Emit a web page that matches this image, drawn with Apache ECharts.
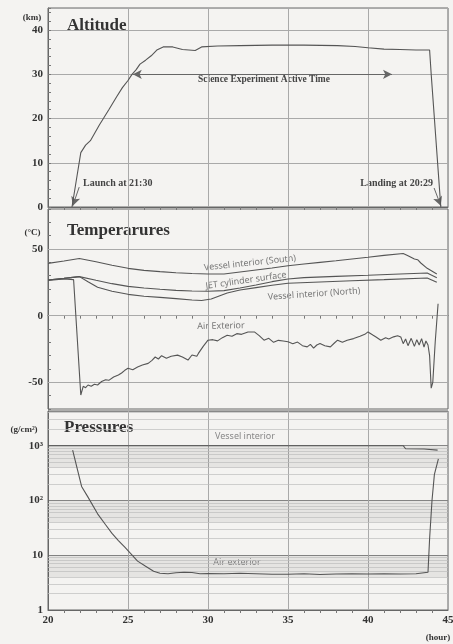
<!DOCTYPE html>
<html>
<head>
<meta charset="utf-8">
<script src="https://cdn.jsdelivr.net/npm/echarts@6/dist/echarts.min.js"></script>
<style>
  html, body { margin: 0; padding: 0; background: #f4f3f1; }
  #chart { width: 453px; height: 644px; }
</style>
</head>
<body>
<div id="chart"></div>
<script>
// altitude (km) vs elapsed hour
const altHours = [21.5, 21.75, 22.05, 22.35, 22.65, 23.2, 23.8, 24.3, 24.65, 25.0, 25.25, 25.5, 25.75, 26.1, 26.45, 26.8, 27.2, 27.8, 28.4, 29.2, 29.6, 30.6, 32, 34, 36, 38.1, 39.2, 40, 41, 42, 43, 43.85, 43.95, 44.55]
const altKm = [0, 5.6, 12.3, 14, 15, 18.5, 22, 25, 27, 28.6, 30, 31, 32.3, 33.2, 34.2, 35.5, 36.2, 36.2, 35.6, 35.4, 36.2, 36.4, 36.5, 36.6, 36.6, 36.5, 36.3, 36, 35.7, 35.6, 35.5, 35.5, 30, 0]

// temperatures (°C)
const southHours = [20, 21, 21.96, 23, 24, 25, 26, 27, 28, 29, 30, 31, 32, 33, 34, 35, 36, 37, 38, 39, 40, 41, 42.2, 42.5, 42.9, 43.1, 43.3, 43.7, 44.3]
const southTemp = [39.2, 41, 42.9, 40.5, 37.8, 35.5, 34, 33, 32.2, 31.6, 31.2, 31.3, 32.8, 34.3, 35.8, 37.4, 38.8, 40, 41.2, 42.5, 43.8, 45.2, 46.6, 44.9, 42.5, 42, 39.5, 35.5, 31.3]
const jetHours = [20, 21, 21.96, 23, 24, 25, 26, 27, 28, 29, 30, 31, 32, 33, 34, 35, 36, 38, 40, 42, 43.7, 44.3]
const jetTemp = [26.8, 28, 29.3, 26.5, 24, 22, 20.8, 19.8, 19, 18.5, 18.3, 18.8, 20.8, 23, 25.5, 27.5, 28.5, 29.5, 30.3, 31.2, 32, 28.5]
const northHours = [20, 21, 21.96, 22.5, 23.1, 24, 25, 26, 27, 28, 29, 29.6, 30.2, 31.2, 32, 33, 34, 35, 37, 39, 41, 43.7, 44.3]
const northTemp = [26.8, 28, 29.3, 25.5, 21.3, 18.3, 16, 14.6, 13.7, 12.8, 11.8, 11.4, 12.5, 17, 19.2, 21, 22.8, 24.3, 25.3, 26.2, 27, 28.3, 25]
const airHours = [20, 21, 21.6, 22.05, 22.2, 22.35, 22.5, 22.7, 22.9, 23.1, 23.35, 23.6, 23.8, 24.1, 24.4, 24.6, 24.8, 25, 25.3, 25.6, 25.9, 26.26, 26.5, 26.7, 26.9, 27.1, 27.4, 27.7, 28.1, 28.4, 28.75, 29.0, 29.3, 29.4, 29.7, 30.0, 30.3, 30.6, 30.9, 31.2, 31.5, 31.8, 32.1, 32.5, 32.9, 33.2, 33.5, 33.8, 34.1, 34.4, 34.7, 35, 35.3, 35.6, 35.9, 36.2, 36.4, 36.6, 36.8, 37.0, 37.3, 37.65, 37.9, 38.1, 38.4, 38.7, 39.1, 39.5, 39.8, 40.0, 40.3, 40.5, 40.8, 41.1, 41.3, 41.6, 41.85, 42.05, 42.2, 42.35, 42.5, 42.7, 42.9, 43.05, 43.2, 43.35, 43.5, 43.62, 43.75, 43.85, 43.95, 44.05, 44.2, 44.38]
const airTemp = [26.5, 27.5, 27, -59.5, -53, -54, -52, -53, -51.5, -52, -49.4, -48, -48.5, -46, -44.5, -43, -41, -39.5, -40.5, -38.5, -37, -35.8, -33.5, -31, -32.5, -30, -32, -30.5, -29.6, -31, -33.3, -29.5, -30.5, -28.3, -23, -18.4, -18, -18.9, -16.5, -14.7, -15.5, -13.5, -14, -12.2, -12.2, -15, -18.4, -17, -20, -18.5, -19, -19.6, -21, -19.8, -22.5, -23.4, -21.5, -24.4, -22, -20.9, -22.5, -23.4, -20.5, -18.4, -20, -18.5, -17.2, -15.5, -14, -12.2, -14.5, -16, -18.4, -16.5, -17.5, -15.9, -15, -16, -21, -17.5, -22.5, -17, -23, -18, -22, -17.2, -23.5, -19, -22, -30, -54.4, -50, -20, 9]

// pressures (g/cm2)
const vesselPHours = [20, 42.2, 42.35, 43.5, 44.35]
const vesselP = [1000, 1000, 880, 870, 830]
const airPHours = [21.54, 22.1, 22.5, 23.1, 23.6, 24.0, 24.4, 24.8, 25.2, 25.6, 26.1, 26.6, 27.0, 27.5, 28.0, 28.5, 29.0, 29.5, 30, 31, 32, 33, 34, 35, 36, 37, 38, 39, 40, 41, 42, 43, 43.75, 43.85, 44.0, 44.15, 44.4]
const airP = [830, 180, 115, 57, 36, 25, 18.5, 14, 10.5, 7.8, 6.3, 5.1, 4.7, 4.6, 4.8, 4.9, 4.85, 4.6, 4.65, 4.6, 4.7, 4.6, 4.5, 4.5, 4.6, 4.45, 4.55, 4.6, 4.55, 4.6, 4.55, 4.6, 4.9, 20, 100, 300, 575]

const hourTicks = [20, 25, 30, 35, 40, 45]
const tempLabels = [-50, 0, 50]
const pressureLabels = { 1: '1', 10: '10', 100: '10²', 1000: '10³' }

const chart = echarts.init(document.getElementById('chart'))

const LINE = '#555'
const GRID = '#a9a9a9'
const FRAME = '#666'
const SERIF = 'Liberation Serif'

const zip = (xs, ys) => xs.map((x, i) => [x, ys[i]])

const makeX = (gridIndex, showLabel) => ({
  type: 'value',
  gridIndex,
  min: 20,
  max: 45,
  interval: 5,
  axisLine: { show: true, lineStyle: { color: FRAME } },
  axisTick: { show: false },
  minorTick: { show: true, splitNumber: 5, length: 3, lineStyle: { color: '#777' } },
  axisLabel: {
    show: showLabel,
    color: '#333',
    fontFamily: SERIF,
    fontWeight: 'bold',
    fontSize: 11,
    margin: 5,
    formatter: (v) => (hourTicks.includes(v) ? String(v) : ''),
  },
  splitLine: { show: true, lineStyle: { color: GRID, width: 1 } },
})

const yLabel = {
  color: '#333',
  fontFamily: SERIF,
  fontWeight: 'bold',
  fontSize: 11,
  margin: 5,
}

// pressure paper: lines at k*10^n, shaded dense bands
const pLines = []
for (const d of [1, 10, 100, 1000]) {
  for (let k = 2; k <= 9; k++) {
    if (k * d < 4300) pLines.push({ yAxis: k * d })
  }
}
const pBands = [1, 10, 100].map((d) => [{ yAxis: 4 * d }, { yAxis: 10 * d }])

const lineSeries = (name, x, y, data, extra) =>
  Object.assign(
    {
      name,
      type: 'line',
      xAxisIndex: x,
      yAxisIndex: y,
      data,
      showSymbol: false,
      symbol: 'none',
      lineStyle: { color: LINE, width: 1.1 },
      z: 5,
    },
    extra || {}
  )

const arrowStyle = { color: '#666', width: 1, type: 'solid' }

const gridBase = { left: 48, width: 400, show: true, borderColor: FRAME, borderWidth: 1, outerBoundsMode: 'none', containLabel: false }

const option = {
  backgroundColor: '#f4f3f1',
  animation: false,
  grid: [
    Object.assign({ top: 8, height: 199 }, gridBase),
    Object.assign({ top: 209, height: 200 }, gridBase),
    Object.assign({ top: 411, height: 199 }, gridBase),
  ],
  xAxis: [makeX(0, false), makeX(1, false), makeX(2, true)],
  yAxis: [
    {
      type: 'value',
      gridIndex: 0,
      min: 0,
      max: 45,
      interval: 10,
      axisLine: { show: true, lineStyle: { color: FRAME } },
      axisTick: { show: true, inside: true, length: 3, lineStyle: { color: '#777' } },
      minorTick: { show: true, splitNumber: 5, length: 3, lineStyle: { color: '#777' } },
      axisLabel: Object.assign({}, yLabel, { formatter: (v) => (v % 10 === 0 && v <= 40 ? String(v) : '') }),
      splitLine: { show: true, lineStyle: { color: GRID } },
    },
    {
      type: 'value',
      gridIndex: 1,
      min: -70,
      max: 80,
      interval: 10,
      axisLine: { show: true, lineStyle: { color: FRAME } },
      axisTick: { show: true, inside: true, length: 3, lineStyle: { color: '#777' } },
      axisLabel: Object.assign({}, yLabel, { formatter: (v) => (tempLabels.includes(v) ? String(v) : '') }),
      splitLine: { show: false },
    },
    {
      type: 'log',
      logBase: 10,
      gridIndex: 2,
      min: 1,
      max: 4300,
      axisLine: { show: true, lineStyle: { color: FRAME } },
      axisTick: { show: false },
      axisLabel: Object.assign({}, yLabel, { formatter: (v) => pressureLabels[Math.round(v)] || '' }),
      splitLine: { show: true, lineStyle: { color: '#888' } },
    },
  ],
  series: [
    lineSeries('Altitude', 0, 0, zip(altHours, altKm), {
      markLine: {
        silent: true,
        symbolSize: [7, 9],
        label: { show: false },
        lineStyle: arrowStyle,
        data: [
          [{ coord: [25.3, 30], symbol: 'arrow' }, { coord: [41.5, 30], symbol: 'arrow' }],
          [{ coord: [21.95, 4.5], symbol: 'none' }, { coord: [21.55, 0.3], symbol: 'arrow' }],
          [{ coord: [44.13, 4.3], symbol: 'none' }, { coord: [44.55, 0.3], symbol: 'arrow' }],
        ],
      },
    }),
    lineSeries('Vessel interior (South)', 1, 1, zip(southHours, southTemp), {
      markLine: {
        silent: true,
        symbol: 'none',
        label: { show: false },
        lineStyle: { color: GRID, width: 1, type: 'solid' },
        data: tempLabels.map((v) => ({ yAxis: v })),
        z: 1,
      },
    }),
    lineSeries('JET cylinder surface', 1, 1, zip(jetHours, jetTemp)),
    lineSeries('Vessel interior (North)', 1, 1, zip(northHours, northTemp)),
    lineSeries('Air Exterior', 1, 1, zip(airHours, airTemp)),
    lineSeries('Vessel interior', 2, 2, zip(vesselPHours, vesselP), {
      markLine: {
        silent: true,
        symbol: 'none',
        label: { show: false },
        lineStyle: { color: '#bdbdbd', width: 0.7, type: 'solid' },
        data: pLines,
      },
      markArea: {
        silent: true,
        itemStyle: { color: 'rgba(0,0,0,0.06)' },
        data: pBands,
      },
    }),
    lineSeries('Air exterior', 2, 2, zip(airPHours, airP)),
  ],
  graphic: [
    { type: 'text', x: 32, y: 18, style: { text: '(km)', font: 'bold 9px "Liberation Serif"', fill: '#333', align: 'center', verticalAlign: 'middle' } },
    { type: 'text', x: 67, y: 26, style: { text: 'Altitude', font: 'bold 17px "Liberation Serif"', fill: '#333', align: 'left', verticalAlign: 'middle' } },
    { type: 'text', x: 264, y: 79.5, style: { text: 'Science Experiment Active Time', font: 'bold 9.5px "Liberation Serif"', fill: '#444', align: 'center', verticalAlign: 'middle' } },
    { type: 'text', x: 83, y: 183, style: { text: 'Launch at 21:30', font: 'bold 10px "Liberation Serif"', fill: '#444', align: 'left', verticalAlign: 'middle' } },
    { type: 'text', x: 433, y: 183, style: { text: 'Landing at 20:29', font: 'bold 10px "Liberation Serif"', fill: '#444', align: 'right', verticalAlign: 'middle' } },

    { type: 'text', x: 32.5, y: 233, style: { text: '(°C)', font: 'bold 9px "Liberation Serif"', fill: '#333', align: 'center', verticalAlign: 'middle' } },
    { type: 'text', x: 67, y: 231, style: { text: 'Temperarures', font: 'bold 17px "Liberation Serif"', fill: '#333', align: 'left', verticalAlign: 'middle' } },
    { type: 'text', x: 250, y: 263, rotation: 0.105, style: { text: 'Vessel interior (South)', font: '9px "Noto Sans"', fill: '#777', align: 'center', verticalAlign: 'middle' } },
    { type: 'text', x: 246, y: 280.5, rotation: 0.14, style: { text: 'JET cylinder surface', font: '9px "Noto Sans"', fill: '#777', align: 'center', verticalAlign: 'middle' } },
    { type: 'text', x: 314, y: 294, rotation: 0.07, style: { text: 'Vessel interior (North)', font: '9px "Noto Sans"', fill: '#777', align: 'center', verticalAlign: 'middle' } },
    { type: 'text', x: 221, y: 326, rotation: 0.02, style: { text: 'Air Exterior', font: '9px "Noto Sans"', fill: '#777', align: 'center', verticalAlign: 'middle' } },

    { type: 'text', x: 24, y: 430, style: { text: '(g/cm²)', font: 'bold 9px "Liberation Serif"', fill: '#333', align: 'center', verticalAlign: 'middle' } },
    { type: 'text', x: 64, y: 428, style: { text: 'Pressures', font: 'bold 17px "Liberation Serif"', fill: '#333', align: 'left', verticalAlign: 'middle' } },
    { type: 'text', x: 245, y: 436.5, style: { text: 'Vessel interior', font: '9px "Noto Sans"', fill: '#888', align: 'center', verticalAlign: 'middle' } },
    { type: 'text', x: 237, y: 562.5, style: { text: 'Air exterior', font: '9px "Noto Sans"', fill: '#888', align: 'center', verticalAlign: 'middle' } },
    { type: 'text', x: 438, y: 638, style: { text: '(hour)', font: 'bold 9px "Liberation Serif"', fill: '#333', align: 'center', verticalAlign: 'middle' } },
  ],
}

chart.setOption(option)
</script>
</body>
</html>
